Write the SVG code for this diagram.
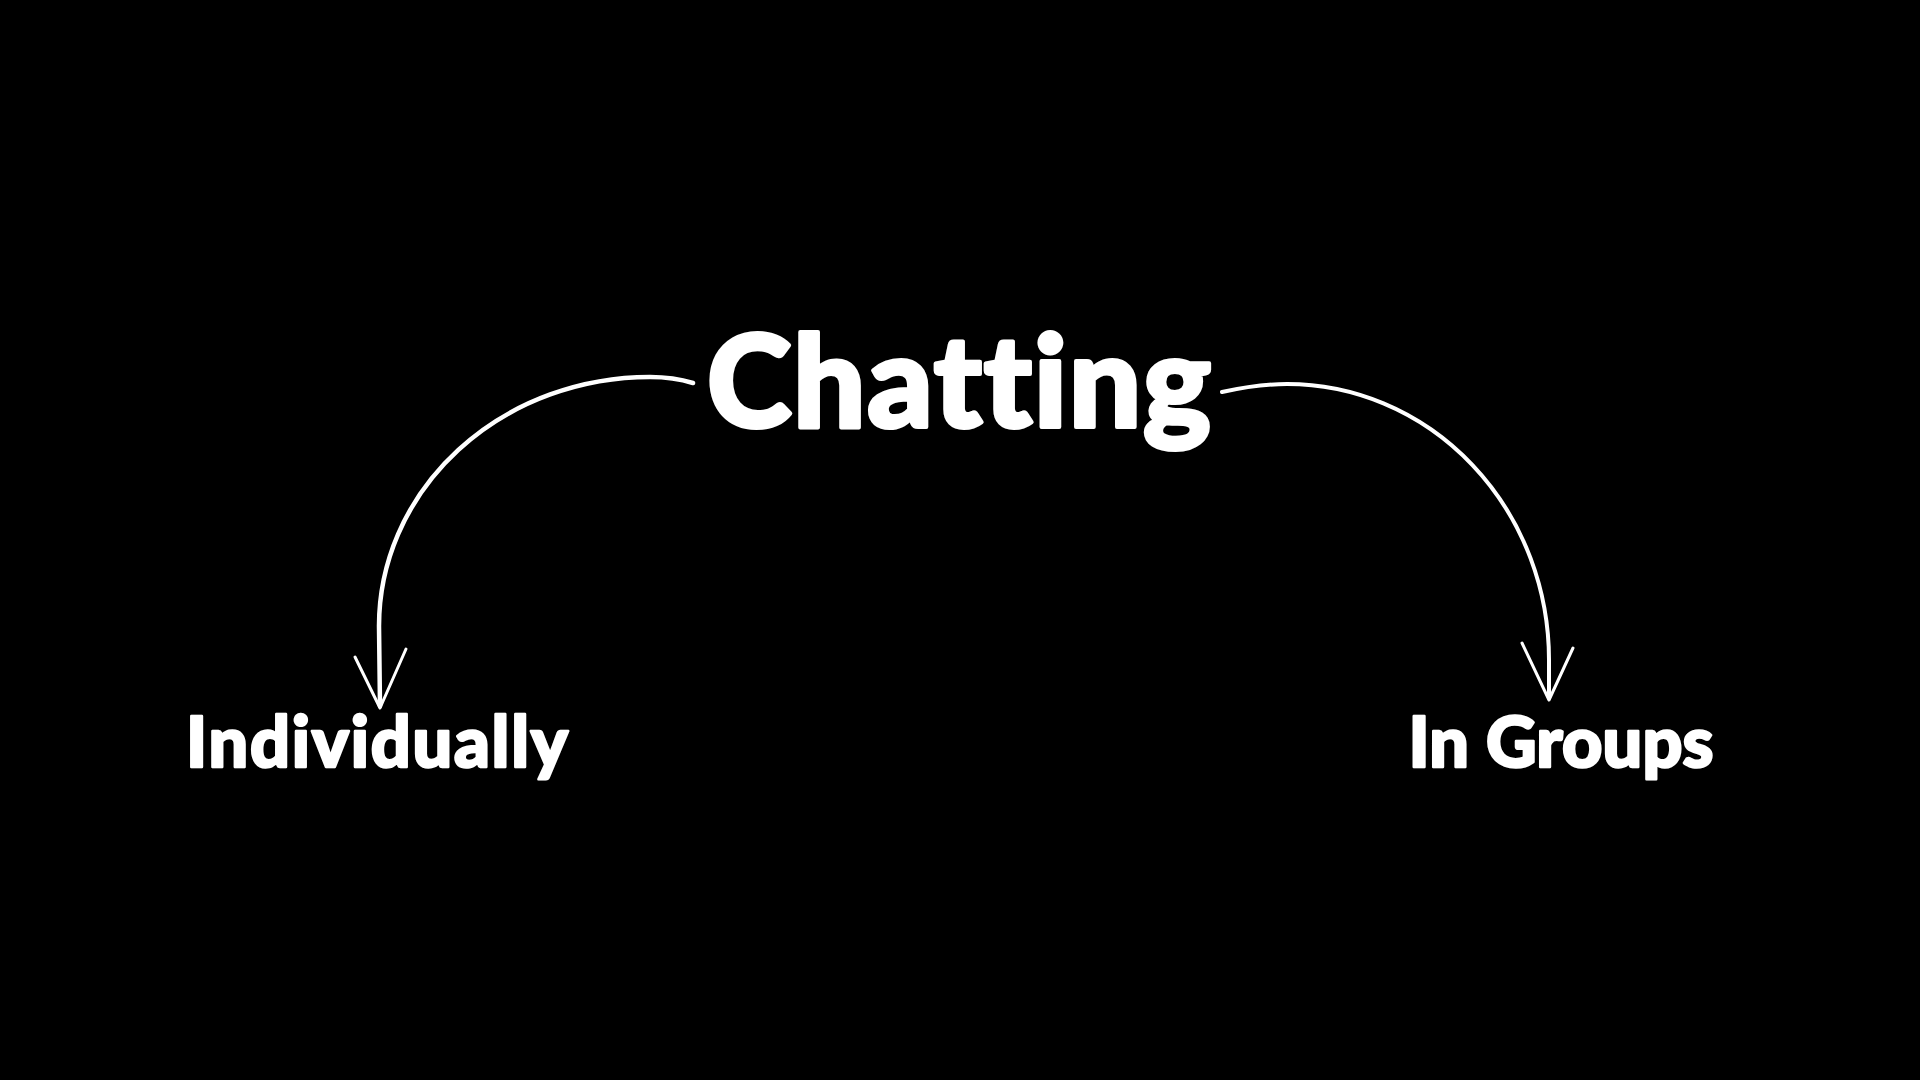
<svg xmlns="http://www.w3.org/2000/svg" width="1920" height="1080" viewBox="0 0 1920 1080">
<style>
.lbl{font-family:Lato,"Noto Sans","Liberation Sans",sans-serif;font-weight:900;fill:#fff;stroke:#fff;stroke-linejoin:round;font-variant-ligatures:none;font-feature-settings:"liga" 0,"clig" 0}
.conn{fill:none;stroke:#fff;stroke-linecap:round;stroke-linejoin:round}
</style>
<rect x="0" y="0" width="1920" height="1080" fill="#000"/>
<g id="connectors">
<path class="conn" stroke-width="4.5" d="M693,383 C680,379 666,377 650,377 A271,249 0 0 0 379,626 L380,706"/>
<path class="conn" stroke-width="3" d="M355,657 L380,708 L406,649"/>
<path class="conn" stroke-width="4" d="M1222,392 C1240,388 1262,384 1287,384 A262,276 0 0 1 1549,660 L1549,698"/>
<path class="conn" stroke-width="3" d="M1522,643 L1549,700 L1573,648"/>
</g>
<g id="node-chatting">
<text class="lbl" x="959" y="427" font-size="128" stroke-width="4" text-anchor="middle" textLength="504">Chatting</text>
</g>
<g id="node-individually">
<text class="lbl" x="377" y="767" font-size="70" stroke-width="2.5" text-anchor="middle" textLength="382">Individually</text>
</g>
<g id="node-ingroups">
<text class="lbl" x="1561" y="767" font-size="70" stroke-width="2.5" text-anchor="middle" textLength="305">In Groups</text>
</g>
</svg>
